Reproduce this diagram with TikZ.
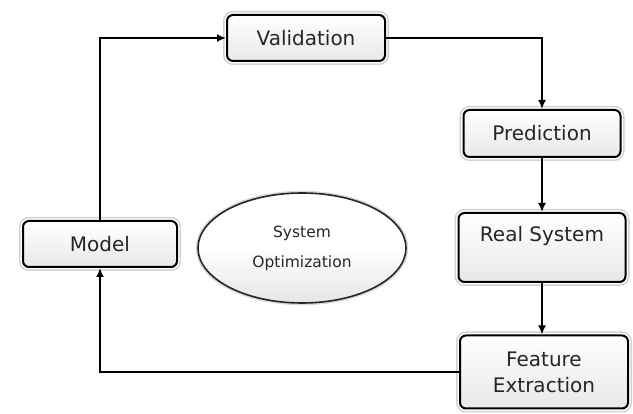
\documentclass[tikz,border=0pt]{standalone}
\usepackage{fontspec}
\setmainfont{DejaVu Sans}
\usetikzlibrary{arrows.meta,shapes.geometric}

\tikzset{
    stage/.style={rectangle, rounded corners=6pt, draw=black, line width=2pt,
        top color=white, bottom color=black!9, text=black!85,
        font=\fontsize{20}{26}\selectfont, align=center, inner sep=0pt,
        preaction={draw=black!18, line width=8pt},
        preaction={draw=white, line width=5pt}},
    goal/.style={ellipse, draw=black!85, line width=1.6pt,
        top color=white, bottom color=black!10, middle color=white, text=black!85,
        font=\fontsize{15.5}{30}\selectfont, align=center, inner sep=0pt,
        preaction={draw=black!15, line width=4.5pt}},
    flow/.style={line width=2pt, -{Latex[length=9pt,width=8pt]}}
}

\begin{document}
\begin{tikzpicture}[x=1pt, y=-1pt]
    \useasboundingbox (0,0) rectangle (633,414);
    \node[stage, minimum width=158pt, minimum height=46pt] (valid) at (306,38) {Validation};
    \node[stage, minimum width=157pt, minimum height=47pt] (pred) at (542,133.5) {Prediction};
    \node[stage, minimum width=167pt, minimum height=69pt, text height=14pt, text depth=26pt] (real) at (542,247.5) {Real System};
    \node[stage, minimum width=168pt, minimum height=73pt] (feat) at (544,372) {Feature\\Extraction};
    \node[stage, minimum width=154pt, minimum height=46pt] (model) at (100,244) {Model};
    \node[goal, minimum width=208pt, minimum height=110pt] (optim) at (302,248) {System\\Optimization};

    \draw[flow] (model.north) |- (valid.west);
    \draw[flow] (valid.east) -| (pred.north);
    \draw[flow] (pred.south) -- (real.north);
    \draw[flow] (real.south) -- (real.south |- feat.north);
    \draw[flow] (feat.west) -| (model.south);
\end{tikzpicture}
\end{document}
